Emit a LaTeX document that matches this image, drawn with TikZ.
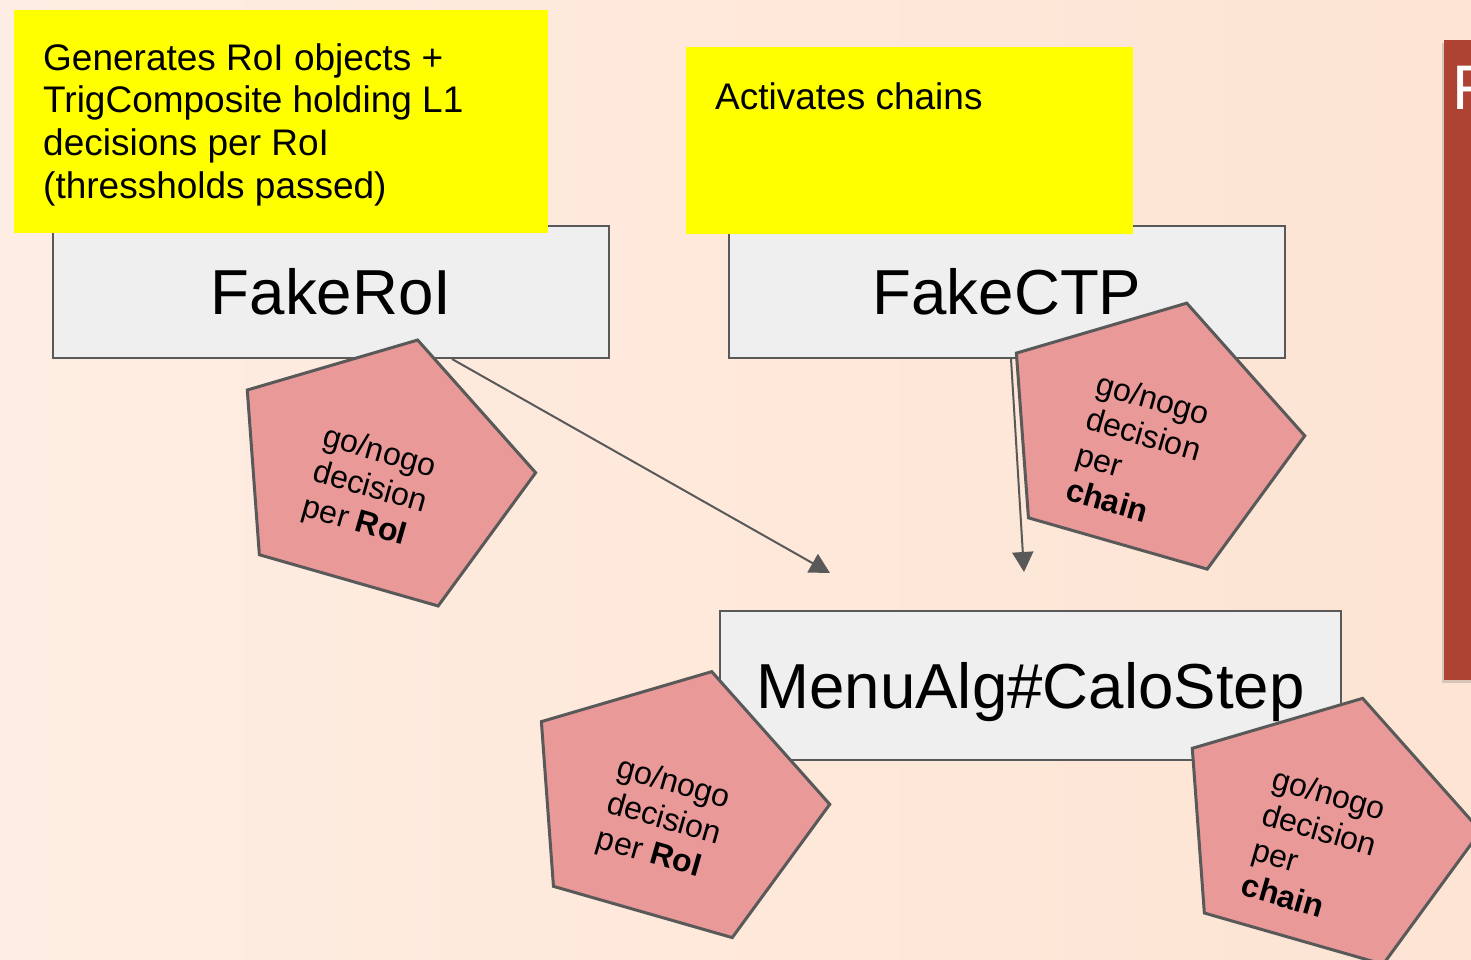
\documentclass[tikz,border=0pt]{standalone}
\usepackage{fontspec}
\setmainfont{Liberation Sans}
\usetikzlibrary{calc,shadows,arrows.meta}

\definecolor{bgtop}{RGB}{254,237,226}
\definecolor{bgbottom}{RGB}{253,228,211}
\definecolor{notebg}{RGB}{255,255,0}
\definecolor{boxbg}{RGB}{239,239,239}
\definecolor{edge}{RGB}{89,89,89}
\definecolor{penta}{RGB}{234,153,153}
\definecolor{slidered}{RGB}{174,67,51}

\tikzset{
    algbox/.style={draw=edge, line width=2pt, fill=boxbg, inner sep=0pt,
        font=\fontsize{63.6}{72}\selectfont, text height=45.5pt, text depth=0pt},
    note/.style={fill=notebg, inner sep=0pt, anchor=north west},
    notetext/.style={inner sep=0pt, anchor=north west, align=left,
        font=\fontsize{37}{42.7}\selectfont},
    flow/.style={draw=edge, line width=2pt, -{Triangle[width=21pt,length=20pt]}},
    pentatext/.style={inner sep=0pt, anchor=west, align=left, rotate=-16,
        font=\fontsize{32}{36.8}\selectfont},
}

% go/nogo pentagon: box centre, name, text
\newcommand{\gonogo}[3]{%
    \begin{scope}[shift={#1}, rotate=-16]
        \filldraw[fill=penta, draw=edge, line width=3pt]
            (0,-125) -- (150,-30) -- (93,125) -- (-93,125) -- (-150,-30) -- cycle;
        \node[pentatext] (#2) at (-64,31) {\rule{0pt}{23.3pt}#3};
    \end{scope}}

\begin{document}
\begin{tikzpicture}[x=1pt, y=-1pt]
        \useasboundingbox (0,0) rectangle (1471,960);
        \clip (0,0) rectangle (1471,960);
        \shade[left color=bgtop, right color=bgbottom] (0,0) rectangle (1471,960);

        % slide panel on the right
        \node[fill=slidered, inner sep=0pt, anchor=north west, minimum width=80pt, minimum height=640pt,
            drop shadow={opacity=0.3, shadow xshift=-2pt, shadow yshift=-3pt}] (redpanel) at (1444,40) {};
        \node[anchor=base west, inner sep=0pt, text=white, font=\fontsize{63}{63}\selectfont] (paneltitle) at (1452,110) {F};

        % algorithms
        \node[algbox, minimum width=556pt, minimum height=132pt] (fakeroi) at (331,292) {FakeRoI};
        \node[algbox, minimum width=556pt, minimum height=132pt] (fakectp) at (1007,292) {FakeCTP};
        \node[algbox, minimum width=621pt, minimum height=149pt] (calostep) at (1030.5,685.5) {MenuAlg\#CaloStep};

        % notes
        \node[note, minimum width=534pt, minimum height=223pt] (roinote) at (14,10) {};
        \node[notetext] (roinotetext) at (43,43) {Generates RoI objects +\\TrigComposite holding L1\\decisions per RoI\\(thressholds passed)};
        \node[note, minimum width=447pt, minimum height=187pt] (ctpnote) at (686,47) {};
        \node[notetext] (ctpnotetext) at (715,82) {Activates chains};

        % flow
        \coordinate (roihead) at (830,573);
        \coordinate (ctphead) at (1024,572);
        \draw[flow] ($(fakeroi.south)+(121,0)$) -- (roihead);
        \draw[flow] ($(fakectp.south)+(4,0)$) -- (ctphead);

        % decisions
        \gonogo{(383.2,460.2)}{roidecA}{go/nogo\\decision\\per \textbf{RoI}}
        \gonogo{(1152.3,423.3)}{chaindecA}{go/nogo\\decision\\per\\\textbf{chain}}
        \gonogo{(677.3,791.8)}{roidecB}{go/nogo\\decision\\per \textbf{RoI}}
        \gonogo{(1328.2,818.5)}{chaindecB}{go/nogo\\decision\\per\\\textbf{chain}}
    \end{tikzpicture}
\end{document}
